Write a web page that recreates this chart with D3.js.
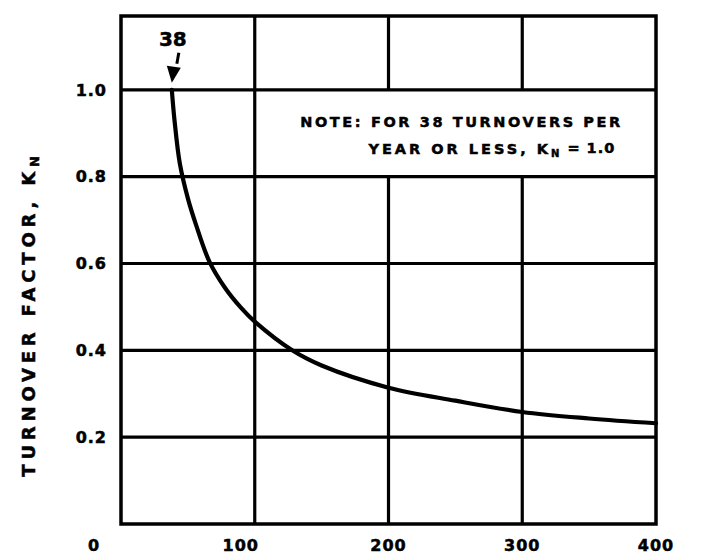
<!DOCTYPE html>
<html>
<head>
<meta charset="utf-8">
<script src="https://cdn.jsdelivr.net/npm/d3@7"></script>
<style>
    html, body { margin: 0; padding: 0; background: #fff; }
    svg { display: block; font-family: "DejaVu Sans", sans-serif; font-weight: bold; }
    svg text { fill: #000; stroke: #000; stroke-width: 0.5px; }
</style>
</head>
<body>
<div id="chart"></div>
<script>
// turnovers per year vs turnover factor K_N
const turnovers = [38, 40, 44, 50, 56, 66, 78, 90, 100, 128, 150, 200, 250, 300, 350, 400];
const factor = [1.0, 0.93, 0.83, 0.75, 0.69, 0.605, 0.543, 0.497, 0.466, 0.40, 0.365, 0.314, 0.284, 0.258, 0.243, 0.232];

const xTicks = [0, 100, 200, 300, 400];
const yTicks = [0.2, 0.4, 0.6, 0.8, 1.0];
const yTickLabels = ["0.2", "0.4", "0.6", "0.8", "1.0"];

const noteLines = ["NOTE: FOR 38 TURNOVERS PER", "YEAR OR LESS, K"];

const width = 710, height = 560;
const margin = { top: 16, right: 54, bottom: 36, left: 121 };

const svg = d3.select("#chart")
    .append("svg")
    .attr("width", width)
    .attr("height", height);

const x = d3.scaleLinear()
    .domain([0, 400])
    .range([margin.left, width - margin.right]);

const y = d3.scaleLinear()
    .domain([0, 1.17])
    .range([height - margin.bottom, margin.top]);

const ink = "#000";

// horizontal grid lines
svg.append("g")
    .selectAll("line")
    .data(yTicks)
    .enter()
    .append("line")
    .attr("x1", x(0))
    .attr("x2", x(400))
    .attr("y1", d => y(d))
    .attr("y2", d => y(d))
    .style("stroke", ink)
    .style("stroke-width", 3.2);

// vertical grid lines, 200 and 300 are broken where the note sits
const vGrid = svg.append("g");
xTicks.slice(1, -1).forEach(v => {
    const segs = v === 100 ? [[0, 1.17]] : [[0, 0.8], [1.0, 1.17]];
    segs.forEach(s => {
        vGrid.append("line")
            .attr("x1", x(v))
            .attr("x2", x(v))
            .attr("y1", y(s[0]))
            .attr("y2", y(s[1]))
            .style("stroke", ink)
            .style("stroke-width", 3.2);
    });
});

// frame
svg.append("rect")
    .attr("x", x(0))
    .attr("y", y(1.17))
    .attr("width", x(400) - x(0))
    .attr("height", y(0) - y(1.17))
    .style("fill", "none")
    .style("stroke", ink)
    .style("stroke-width", 3.5);

// curve
const line = d3.line()
    .x((d, i) => x(turnovers[i]))
    .y(d => y(d))
    .curve(d3.curveCatmullRom);

svg.append("path")
    .attr("d", line(factor))
    .style("fill", "none")
    .style("stroke", ink)
    .style("stroke-width", 4.2)
    .style("stroke-linecap", "round");

// y tick labels
svg.append("g")
    .selectAll("text")
    .data(yTicks)
    .enter()
    .append("text")
    .attr("x", x(0) - 14)
    .attr("y", d => y(d))
    .attr("dy", "0.36em")
    .style("text-anchor", "end")
    .style("font-size", "16px")
    .style("letter-spacing", "1px")
    .text((d, i) => yTickLabels[i]);

// x tick labels (hand lettered, 0 and 100 sit left of their lines)
svg.append("g")
    .selectAll("text")
    .data(xTicks)
    .enter()
    .append("text")
    .attr("x", d => x(d) + (d === 0 ? -27 : d === 100 ? -14 : 0))
    .attr("y", y(0) + 27)
    .style("text-anchor", "middle")
    .style("font-size", "16px")
    .style("letter-spacing", "1px")
    .text(d => d);

// y axis title
const yTitle = svg.append("text")
    .attr("transform", `translate(35,314) rotate(-90)`)
    .style("text-anchor", "middle")
    .style("font-size", "18px")
    .style("letter-spacing", "4.8px")
    .text("TURNOVER FACTOR, K");
yTitle.append("tspan")
    .attr("dy", "0.3em")
    .style("font-size", "13px")
    .text("N");

// "38" call-out with arrow at start of curve
const px = x(turnovers[0]), py = y(factor[0]);
svg.append("text")
    .attr("x", px + 1)
    .attr("y", py - 44)
    .style("text-anchor", "middle")
    .style("font-size", "20px")
    .text(turnovers[0]);

svg.append("line")
    .attr("x1", px + 7).attr("y1", py - 37)
    .attr("x2", px + 5).attr("y2", py - 26)
    .style("stroke", ink)
    .style("stroke-width", 3);

svg.append("path")
    .attr("d", `M${px - 5},${py - 24} L${px + 9},${py - 22} L${px},${py - 7} Z`)
    .style("fill", ink);

// note
svg.append("text")
    .attr("x", x(134))
    .attr("y", y(0.914))
    .style("font-size", "14.5px")
    .attr("textLength", 320)
    .attr("lengthAdjust", "spacing")
    .text(noteLines[0]);

const note2 = svg.append("text")
    .attr("x", x(185))
    .attr("y", y(0.852))
    .style("font-size", "14.5px")
    .style("letter-spacing", "3px")
    .text(noteLines[1]);
note2.append("tspan")
    .attr("dy", "0.25em")
    .style("font-size", "10px")
    .style("letter-spacing", "0px")
    .text("N");
note2.append("tspan")
    .attr("dy", "-0.25em")
    .attr("dx", 8)
    .style("letter-spacing", "1px")
    .text("= 1.0");
</script>
</body>
</html>
